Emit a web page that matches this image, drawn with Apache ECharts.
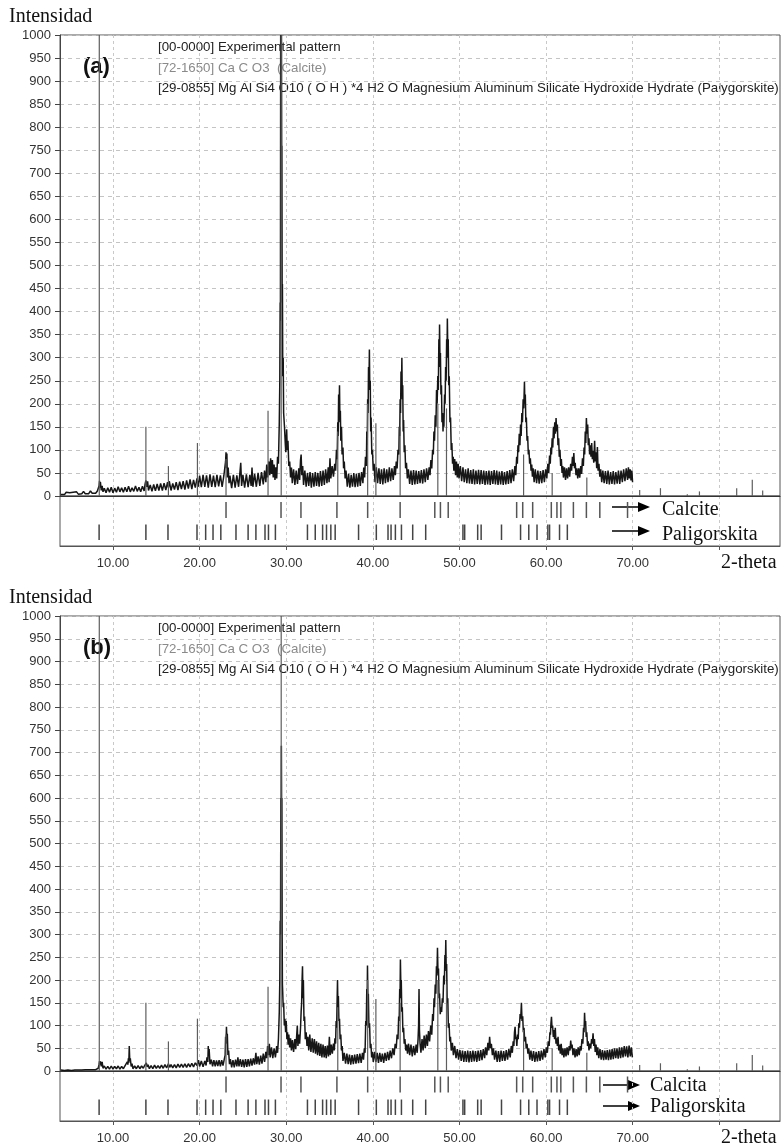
<!DOCTYPE html>
<html>
<head>
<meta charset="utf-8">
<script src="https://cdn.jsdelivr.net/npm/echarts@6.0.0/dist/echarts.min.js"></script>
<style>html,body{margin:0;padding:0;background:#fff}#chart{width:782px;height:1145px}</style>
</head>
<body>
<div id="chart"></div>
<script>
// axis range / tick labels
var X_MIN = 3.885, X_MAX = 87;
var xLabelValues = [10, 20, 30, 40, 50, 60, 70];
var xGridValues = [10, 20, 30, 40, 50, 60, 70, 80];
var panelTags = ['(a)', '(b)'];
var calciteNames = ['Calcite', 'Calcita'];
var palygName = 'Paligorskita';
var legendLines = [
  '[00-0000] Experimental pattern',
  '[72-1650] Ca C O3  (Calcite)',
  '[29-0855] Mg Al Si4 O10 ( O H ) *4 H2 O Magnesium Aluminum Silicate Hydroxide Hydrate (Palygorskite)'
];

// experimental pattern (a), [2theta, counts]
var expA = [
  [4.0,3],[4.2,7],[4.4,3],[4.6,8],[4.8,4],[5.0,7],[5.2,3],[5.4,8],[5.6,4],[5.8,9],[6.0,4],[6.2,8],[6.4,5],[6.6,10],[6.8,5],[7.0,9],[7.2,5],[7.4,11],[7.6,6],[7.8,10],[8.0,6],[8.2,11],
  [8.3,9],[8.4,22],[8.45,33],[8.5,18],[8.55,30],[8.65,12],[8.75,22],[8.85,9],
  [9.0,17],[9.2,7],[9.4,18],[9.6,8],[9.8,19],[10.0,7],[10.2,17],[10.4,8],[10.6,20],[10.8,9],[11.0,18],[11.2,8],[11.4,19],[11.6,9],[11.8,21],[12.0,9],[12.2,18],[12.4,10],[12.6,22],[12.8,10],[13.0,19],[13.2,9],[13.4,21],[13.6,11],
  [13.7,25],[13.8,34],[13.9,20],[14.0,32],[14.1,12],
  [14.3,24],[14.5,10],[14.7,25],[14.9,11],[15.1,26],[15.3,12],[15.5,27],[15.7,12],[15.9,28],[16.1,13],[16.3,30],[16.4,18],[16.5,32],[16.7,12],[16.9,27],[17.1,14],[17.3,30],[17.5,13],[17.7,31],[17.9,15],[18.1,32],[18.3,14],[18.5,34],[18.7,16],[18.9,36],[19.1,15],[19.3,35],[19.5,18],
  [19.7,38],[19.85,20],[20.0,44],[20.2,19],[20.4,46],[20.6,20],[20.8,45],[21.0,18],[21.2,47],[21.4,20],[21.6,44],[21.8,19],[22.0,46],[22.2,21],[22.4,45],[22.6,20],[22.8,44],
  [22.95,48],[23.0,75],[23.05,95],[23.1,60],[23.15,92],[23.2,40],[23.3,62],[23.4,28],
  [23.5,44],[23.7,17],[23.9,46],[24.1,18],[24.3,45],[24.5,20],[24.65,50],[24.75,72],[24.85,22],[25.0,46],[25.2,18],[25.4,47],[25.6,19],[25.8,46],[25.95,22],[26.05,62],[26.15,20],[26.35,48],[26.55,20],[26.75,50],[26.95,22],[27.15,52],[27.35,25],[27.5,55],
  [27.65,30],[27.75,68],[27.85,40],[28.0,75],[28.1,45],[28.2,82],[28.3,48],[28.4,78],[28.5,40],[28.6,68],[28.7,35],[28.8,62],[28.9,38],[29.0,85],[29.1,70],[29.2,160],
  [29.26,250],[29.3,420],[29.33,380],[29.36,1000],[29.38,800],[29.4,1000],[29.42,850],[29.45,1000],[29.48,700],[29.5,760],[29.53,420],[29.56,460],[29.6,260],[29.65,300],[29.7,180],[29.8,150],[29.9,110],[29.95,95],[30.05,145],[30.12,100],[30.2,120],[30.3,65],[30.4,75],
  [30.5,40],[30.6,62],[30.7,28],[30.85,58],[31.0,24],[31.15,55],[31.3,26],[31.45,60],[31.55,35],[31.65,78],[31.72,90],[31.8,45],[31.9,65],[32.0,24],[32.15,55],[32.3,20],[32.45,50],[32.6,22],[32.75,52],[32.9,18],[33.05,50],[33.2,20],[33.35,52],[33.5,22],[33.65,50],[33.8,20],[33.95,54],[34.1,22],[34.25,55],[34.4,24],[34.55,58],[34.7,28],[34.85,62],[34.95,30],[35.05,82],[35.15,38],[35.3,65],[35.45,42],[35.6,70],
  [35.7,55],[35.8,100],[35.88,80],[35.95,160],[36.0,130],[36.05,220],[36.1,180],[36.15,240],[36.2,160],[36.25,185],[36.3,120],[36.38,150],[36.45,90],[36.55,105],[36.62,60],[36.7,75],[36.8,38],
  [36.9,55],[37.05,20],[37.2,48],[37.35,18],[37.5,46],[37.65,20],[37.8,50],[37.95,19],[38.1,48],[38.25,20],[38.4,50],[38.55,22],[38.7,52],[38.85,28],[38.95,62],[39.05,40],[39.15,85],[39.25,65],
  [39.3,140],[39.35,110],[39.4,210],[39.45,180],[39.5,280],[39.55,240],[39.6,318],[39.65,230],[39.7,250],[39.75,140],[39.8,170],[39.88,90],[39.95,100],[40.05,55],[40.15,70],
  [40.25,30],[40.4,62],[40.55,28],[40.7,60],[40.85,26],[41.0,58],[41.15,25],[41.3,60],[41.45,28],[41.6,58],[41.75,30],[41.9,62],[42.05,32],[42.2,60],[42.35,35],[42.5,65],[42.6,45],[42.7,75],[42.8,60],[42.9,100],
  [43.0,90],[43.05,150],[43.1,130],[43.15,210],[43.2,180],[43.25,270],[43.3,230],[43.35,300],[43.4,210],[43.45,240],[43.5,140],[43.55,165],[43.62,95],[43.7,110],[43.78,60],[43.88,72],[43.98,38],
  [44.1,58],[44.25,26],[44.4,55],[44.55,24],[44.7,56],[44.85,25],[45.0,55],[45.15,26],[45.3,54],[45.45,28],[45.6,56],[45.75,27],[45.9,58],[46.05,30],[46.2,60],[46.35,35],[46.5,62],[46.6,45],[46.7,78],[46.8,60],[46.9,100],
  [46.98,90],[47.05,140],[47.12,120],[47.2,175],[47.28,150],[47.35,230],[47.42,200],[47.5,260],[47.56,230],[47.62,340],[47.66,280],[47.7,372],[47.75,290],[47.8,310],[47.86,220],[47.92,240],[47.98,160],[48.05,180],[48.1,140],[48.15,170],[48.2,150],[48.28,220],[48.34,200],[48.4,280],[48.46,250],[48.52,340],[48.56,300],[48.6,385],[48.65,320],[48.7,340],[48.76,240],[48.82,260],[48.9,160],[48.97,170],[49.05,100],[49.12,115],[49.2,70],[49.28,85],
  [49.35,55],[49.45,80],[49.55,45],[49.65,75],[49.75,40],[49.85,70],[49.95,38],[50.1,65],[50.25,32],[50.4,62],[50.55,30],[50.7,58],[50.85,28],[51.0,60],[51.15,27],[51.3,56],[51.45,26],[51.6,58],[51.75,25],[51.9,55],[52.05,26],[52.2,57],[52.35,25],[52.5,56],[52.65,26],[52.8,55],[52.95,24],[53.1,54],[53.25,25],[53.4,55],[53.55,24],[53.7,54],[53.85,26],[54.0,56],[54.15,25],[54.3,55],[54.45,24],[54.6,53],[54.75,25],[54.9,54],[55.05,24],[55.2,52],[55.35,25],[55.5,54],[55.65,26],[55.8,56],[55.95,28],[56.1,58],[56.25,32],[56.4,65],[56.5,45],[56.6,85],
  [56.68,70],[56.75,110],[56.82,95],[56.9,135],[56.98,110],[57.05,155],[57.12,130],[57.2,180],[57.27,160],[57.35,210],[57.42,190],[57.5,248],[57.55,200],[57.6,220],[57.66,160],[57.72,170],[57.8,120],[57.87,130],[57.95,90],[58.02,100],[58.1,70],[58.18,82],[58.26,55],[58.34,68],[58.42,42],
  [58.5,60],[58.62,30],[58.75,58],[58.9,28],[59.05,55],[59.2,27],[59.35,54],[59.5,28],[59.65,56],[59.8,30],[59.95,58],[60.08,38],[60.2,70],[60.3,50],[60.4,88],
  [60.48,70],[60.55,105],[60.62,90],[60.7,125],[60.77,105],[60.85,150],[60.92,125],[61.0,160],[61.07,135],[61.15,169],[61.22,140],[61.3,155],[61.37,110],[61.45,125],[61.52,85],[61.6,100],[61.68,65],[61.76,80],[61.84,50],[61.92,65],
  [62.0,40],[62.12,62],[62.24,35],[62.36,60],[62.48,38],[62.6,62],[62.72,42],[62.84,70],[62.94,55],[63.04,85],[63.12,65],[63.2,93],[63.28,60],[63.36,72],[63.45,45],[63.55,60],[63.65,38],[63.77,60],[63.88,40],[64.0,65],[64.1,48],[64.2,82],[64.3,65],
  [64.38,105],[64.45,90],[64.52,140],[64.58,115],[64.65,169],[64.72,135],[64.8,155],[64.87,110],[64.95,125],[65.02,90],[65.1,110],[65.18,85],[65.26,115],[65.34,80],[65.42,98],[65.5,72],[65.6,120],[65.68,75],[65.76,95],[65.84,60],[65.92,106],[66.0,55],[66.1,70],[66.2,42],[66.3,58],
  [66.42,30],[66.55,55],[66.7,28],[66.85,54],[67.0,26],[67.15,55],[67.3,25],[67.45,52],[67.6,26],[67.75,54],[67.9,25],[68.05,52],[68.2,27],[68.35,55],[68.5,26],[68.65,55],[68.8,30],[68.95,58],[69.1,32],[69.25,60],[69.4,35],[69.5,62],[69.6,38],[69.7,58],[69.8,34],[69.9,55],[69.98,30]
];

// experimental pattern (b)
var expB = [
  [4.0,2],[4.2,5],[4.4,1],[4.6,5],[4.8,2],[5.0,4],[5.2,1],[5.4,5],[5.6,2],[5.8,5],[6.0,2],[6.2,5],[6.4,2],[6.6,6],[6.8,3],[7.0,6],[7.2,3],[7.4,7],[7.6,3],[7.8,6],[8.0,3],[8.2,7],
  [8.3,6],[8.4,15],[8.45,22],[8.5,14],[8.55,21],[8.65,10],[8.75,20],[8.85,6],
  [9.0,11],[9.2,4],[9.4,10],[9.6,4],[9.8,11],[10.0,4],[10.2,10],[10.4,5],[10.6,11],[10.8,4],[11.0,10],[11.2,5],[11.4,12],[11.55,8],
  [11.65,20],[11.72,14],[11.78,28],[11.83,18],[11.88,55],[11.94,22],[12.0,28],[12.1,10],[12.2,16],
  [12.3,5],[12.5,11],[12.7,5],[12.9,12],[13.1,5],[13.3,11],[13.5,6],[13.65,12],
  [13.75,8],[13.85,18],[13.95,9],[14.05,14],
  [14.2,5],[14.4,12],[14.6,5],[14.8,13],[15.0,6],[15.2,12],[15.4,6],[15.6,13],[15.8,6],[16.0,14],[16.2,7],[16.4,16],[16.55,8],[16.7,14],[16.9,7],[17.1,14],[17.3,7],[17.5,15],[17.7,8],[17.9,15],[18.1,8],[18.3,16],[18.5,8],[18.7,16],[18.9,9],[19.1,17],[19.3,9],[19.5,18],
  [19.7,12],[19.85,24],[20.0,10],[20.2,22],[20.4,9],[20.6,22],[20.75,12],[20.85,30],[20.95,20],[21.0,55],[21.05,35],[21.1,48],[21.2,15],[21.35,25],[21.5,10],[21.65,24],[21.8,10],[21.95,23],[22.1,11],[22.25,24],[22.4,10],[22.55,24],[22.7,12],[22.85,26],
  [22.95,35],[23.0,75],[23.05,60],[23.1,97],[23.15,70],[23.2,82],[23.27,35],[23.35,45],[23.45,15],
  [23.55,26],[23.7,8],[23.85,24],[24.0,8],[24.15,25],[24.3,10],[24.42,30],[24.55,10],[24.7,26],[24.85,9],[25.0,25],[25.15,8],[25.3,26],[25.45,9],[25.6,26],[25.75,10],[25.9,27],[26.05,12],[26.2,28],[26.35,14],[26.5,40],[26.6,15],[26.75,32],[26.9,14],[27.05,34],[27.2,16],[27.35,38],[27.5,20],[27.65,42],
  [27.75,28],[27.85,55],[27.95,35],[28.05,60],[28.15,30],[28.3,52],[28.45,28],[28.6,50],[28.75,30],[28.9,55],[29.0,40],[29.1,70],[29.2,130],
  [29.26,200],[29.3,330],[29.34,300],[29.38,600],[29.41,520],[29.44,715],[29.47,560],[29.5,600],[29.53,300],[29.56,190],[29.6,170],[29.65,140],[29.7,150],[29.78,100],[29.85,115],[29.93,85],[30.0,110],[30.08,70],[30.15,85],[30.22,58],[30.3,80],[30.4,52],
  [30.5,72],[30.6,45],[30.72,68],[30.85,42],[31.0,70],[31.1,48],[31.2,75],[31.28,100],[31.35,55],[31.45,80],[31.55,60],[31.65,95],
  [31.72,130],[31.78,150],[31.83,200],[31.88,230],[31.93,160],[31.98,200],[32.05,110],[32.12,120],[32.2,70],[32.3,85],[32.4,55],[32.5,75],
  [32.6,45],[32.72,80],[32.85,42],[33.0,72],[33.12,40],[33.25,70],[33.38,38],[33.5,65],[33.62,35],[33.75,62],[33.88,33],[34.0,60],[34.12,30],[34.25,58],[34.38,30],[34.5,55],[34.62,28],[34.75,56],[34.88,32],[34.98,75],[35.08,35],[35.2,58],[35.32,38],[35.45,60],[35.55,45],[35.62,72],
  [35.7,60],[35.76,110],[35.82,95],[35.87,150],[35.92,200],[35.97,140],[36.02,165],[36.08,110],[36.15,115],[36.22,70],[36.3,80],[36.38,45],[36.46,55],
  [36.55,22],[36.7,40],[36.85,16],[37.0,38],[37.15,15],[37.3,36],[37.45,14],[37.6,35],[37.75,15],[37.9,36],[38.05,16],[38.2,37],[38.35,17],[38.5,38],[38.65,18],[38.8,40],[38.92,25],[39.02,50],[39.1,40],[39.18,110],
  [39.24,100],[39.3,180],[39.34,150],[39.38,232],[39.43,160],[39.48,170],[39.55,95],[39.62,105],[39.7,50],[39.78,60],[39.86,30],[39.95,42],
  [40.05,20],[40.2,42],[40.35,20],[40.5,40],[40.65,18],[40.8,40],[40.95,20],[41.1,38],[41.25,18],[41.4,40],[41.55,22],[41.7,42],[41.85,24],[42.0,45],[42.15,28],[42.3,50],[42.45,35],[42.58,60],[42.7,50],[42.8,80],[42.9,70],
  [42.98,120],[43.04,110],[43.1,180],[43.14,160],[43.18,245],[43.23,190],[43.28,200],[43.34,130],[43.4,140],[43.47,85],[43.55,95],[43.62,60],[43.7,70],[43.8,45],[43.9,58],
  [44.0,38],[44.12,60],[44.25,35],[44.4,58],[44.55,32],[44.7,55],[44.85,35],[45.0,58],[45.12,40],[45.22,70],[45.28,100],[45.33,180],[45.38,90],[45.45,60],[45.55,40],[45.68,70],[45.8,45],[45.92,78],[46.05,50],[46.18,80],[46.3,55],[46.42,88],[46.55,65],[46.68,100],[46.8,80],[46.9,125],
  [46.98,110],[47.06,160],[47.12,140],[47.2,190],[47.27,170],[47.34,230],[47.4,210],[47.46,271],[47.52,215],[47.58,225],[47.64,160],[47.7,170],[47.78,125],[47.86,140],[47.94,130],[48.02,160],[48.1,150],[48.18,210],[48.25,190],[48.32,255],[48.37,230],[48.42,288],[48.47,220],[48.52,235],[48.58,150],[48.65,160],[48.72,95],[48.8,105],[48.88,65],[48.96,75],
  [49.05,45],[49.18,62],[49.3,35],[49.45,55],[49.6,28],[49.75,48],[49.9,25],[50.05,46],[50.2,22],[50.35,45],[50.5,20],[50.65,44],[50.8,20],[50.95,45],[51.1,19],[51.25,44],[51.4,20],[51.55,45],[51.7,21],[51.85,44],[52.0,20],[52.15,45],[52.3,22],[52.45,46],[52.6,24],[52.75,48],[52.9,28],[53.02,52],[53.15,35],[53.28,62],[53.38,45],[53.48,75],[53.58,50],[53.68,60],[53.8,35],[53.92,50],[54.05,25],[54.2,45],[54.35,20],[54.5,44],[54.65,20],[54.8,45],[54.95,22],[55.1,44],[55.25,22],[55.4,46],[55.55,25],[55.7,48],[55.85,30],[55.98,55],[56.1,40],[56.2,65],
  [56.28,55],[56.35,85],[56.42,97],[56.48,70],[56.55,75],[56.62,55],[56.7,80],
  [56.78,70],[56.85,105],[56.92,95],[57.0,125],[57.07,115],[57.15,150],[57.22,110],[57.3,120],[57.37,85],[57.45,95],[57.53,65],[57.62,75],[57.7,50],[57.8,60],[57.9,38],[58.0,50],
  [58.12,25],[58.25,45],[58.4,22],[58.55,44],[58.7,20],[58.85,42],[59.0,21],[59.15,44],[59.3,22],[59.45,45],[59.6,25],[59.75,48],[59.9,30],[60.02,52],[60.14,40],[60.25,65],[60.35,55],[60.44,85],
  [60.5,80],[60.56,105],[60.62,119],[60.68,95],[60.75,100],[60.83,75],[60.9,90],[60.98,70],[61.06,95],[61.14,60],[61.22,72],[61.3,55],[61.38,75],[61.46,45],[61.55,58],[61.64,38],[61.74,60],[61.84,35],[61.94,50],
  [62.05,30],[62.18,50],[62.3,32],[62.42,52],[62.55,35],[62.66,55],[62.76,45],[62.84,67],[62.92,50],[63.0,58],[63.1,35],[63.22,50],[63.34,30],[63.46,48],[63.58,32],[63.7,52],[63.82,35],[63.94,55],[64.04,45],[64.14,70],[64.24,60],[64.32,95],
  [64.38,85],[64.44,128],[64.5,100],[64.56,110],[64.63,75],[64.7,85],[64.78,55],[64.86,65],[64.95,45],[65.05,60],[65.15,50],[65.25,70],[65.33,60],[65.42,83],[65.5,55],[65.58,70],[65.67,42],[65.76,58],[65.86,35],[65.96,52],
  [66.08,28],[66.22,48],[66.36,25],[66.5,46],[66.64,24],[66.78,45],[66.92,25],[67.06,46],[67.2,24],[67.34,47],[67.48,25],[67.62,48],[67.76,26],[67.9,50],[68.04,28],[68.18,50],[68.32,27],[68.46,52],[68.6,28],[68.74,52],[68.88,30],[69.02,55],[69.16,32],[69.3,54],[69.44,30],[69.58,56],[69.72,32],[69.84,52],[69.96,30]
];

// reference pattern lines drawn in the plot, [2theta, intensity]
var refSticks = [
  [8.42,1000],[13.8,150],[16.4,65],[19.75,115],[23.05,80],[27.9,185],[29.42,1000],[35.95,140],[39.4,200],[40.35,158],
  [43.15,150],[47.5,200],[48.5,190],[57.4,90],[60.7,50],[64.7,40],
  [70.8,13],[73.2,17],[76.3,4],[77.7,10],[82.0,17],[83.8,35],[85.0,12]
];

// stick positions in the lower strip
var calciteLines = [23.05,29.4,31.7,35.85,39.4,43.15,47.15,47.8,48.7,56.6,57.3,58.45,60.6,61.25,61.7,63.15,64.65,66.2,69.4];
var palygLines = [8.4,13.8,16.35,19.7,20.7,21.55,22.45,24.2,25.6,26.5,27.55,27.95,28.75,32.45,33.35,34.2,34.65,35.15,35.65,38.35,40.4,
  41.75,42.1,42.6,43.3,44.6,46.1,50.4,50.6,52.1,52.5,54.85,57.05,58.0,58.95,60.2,60.4,61.55,62.45];

var panels = [
  {top: 35, height: 461, strip: 50, rows: [8.8, 1.2], arrowX: [612, 650], textX: 662, arrowY: [507, 531], textY: [510, 535], labelY: 563},
  {top: 616, height: 455, strip: 51, rows: [8.9, 1.2], arrowX: [603, 640], textX: 650, arrowY: [1085, 1106], textY: [1086, 1107], labelY: 1138}
];

var chart = echarts.init(document.getElementById('chart'));

function stickSeries(xi, data, lo, hi, color, width) {
  return {
    type: 'custom', xAxisIndex: xi, yAxisIndex: xi, z: 5, silent: true,
    data: data.map(function (v) { return [v, 0]; }),
    renderItem: function (params, api) {
      var a = api.coord([api.value(0), lo]);
      var b = api.coord([api.value(0), hi]);
      return {type: 'line', shape: {x1: a[0], y1: a[1], x2: b[0], y2: b[1]}, style: {stroke: color, lineWidth: width}};
    }
  };
}

var grids = [], xAxes = [], yAxes = [], series = [], graphics = [];
var gridLine = {lineStyle: {color: '#c9c9c9', type: [3, 3], width: 1}};

panels.forEach(function (p, i) {
  var main = 2 * i, strip = 2 * i + 1;
  grids.push({left: 60, width: 720, top: p.top, height: p.height, show: true, borderColor: '#555', borderWidth: 1});
  grids.push({left: 60, width: 720, top: p.top + p.height, height: p.strip, show: true, borderColor: '#555', borderWidth: 1});

  xAxes.push({
    type: 'value', gridIndex: main, min: X_MIN, max: X_MAX, splitNumber: 8,
    axisLine: {show: true, lineStyle: {color: '#333', width: 1.2}},
    axisTick: {show: false, customValues: xGridValues},
    axisLabel: {show: false, customValues: xLabelValues},
    splitLine: {show: true, lineStyle: gridLine.lineStyle}
  });
  xAxes.push({
    type: 'value', gridIndex: strip, min: X_MIN, max: X_MAX, splitNumber: 8,
    axisLine: {show: true, lineStyle: {color: '#555'}},
    axisTick: {show: true, length: 4, customValues: xGridValues, lineStyle: {color: '#555'}},
    axisLabel: {
      customValues: xLabelValues, margin: 11, fontSize: 13, color: '#333', fontFamily: 'Liberation Sans',
      formatter: function (v) { return v.toFixed(2); }
    },
    splitLine: {show: true, lineStyle: gridLine.lineStyle}
  });

  yAxes.push({
    type: 'value', gridIndex: main, min: 0, max: 1000, interval: 50,
    axisLine: {show: true, lineStyle: {color: '#444'}},
    axisTick: {show: true, length: 5, lineStyle: {color: '#444'}},
    axisLabel: {fontSize: 13, color: '#333', fontFamily: 'Liberation Sans', margin: 9,
      formatter: function (v) { return String(v); }},
    splitLine: {show: true, lineStyle: {color: '#c4c4c4', type: [4, 4]}}
  });
  yAxes.push({type: 'value', gridIndex: strip, min: 0, max: 10, show: false, splitLine: {show: false}});

  series.push({
    type: 'line', xAxisIndex: main, yAxisIndex: main, data: i === 0 ? expA : expB,
    showSymbol: false, symbol: 'none', z: 3, animation: false,
    lineStyle: {color: '#161616', width: 1.5}
  });
  series.push({
    type: 'custom', xAxisIndex: main, yAxisIndex: main, z: 4, silent: true,
    data: refSticks,
    renderItem: function (params, api) {
      var a = api.coord([api.value(0), 0]);
      var b = api.coord([api.value(0), api.value(1)]);
      return {type: 'line', shape: {x1: a[0], y1: a[1], x2: b[0], y2: b[1]}, style: {stroke: '#5e5e5e', lineWidth: 1.2}};
    }
  });
  series.push(stickSeries(strip, calciteLines, p.rows[0] - 3.2, p.rows[0], '#555', 1.5));
  series.push(stickSeries(strip, palygLines, p.rows[1], p.rows[1] + 3.1, '#444', 1.5));

  function txt(t, x, y, font, fill) {
    graphics.push({type: 'text', x: x, y: y, silent: true,
      style: {text: t, font: font, fill: fill, verticalAlign: 'middle', align: 'left'}});
  }
  txt('Intensidad', 9, p.top - 18, '20px "Liberation Serif"', '#111');
  txt(panelTags[i], 83, p.top + 32, 'bold 22px "Liberation Sans"', '#111');
  legendLines.forEach(function (t, k) {
    txt(t, 158, p.top + [12, 33, 53][k], '13.3px "Liberation Sans"', k === 1 ? '#8a8a8a' : '#222');
  });
  txt(calciteNames[i], p.textX, p.textY[0], '20px "Liberation Serif"', '#111');
  txt(palygName, p.textX, p.textY[1], '20px "Liberation Serif"', '#111');
  txt('2-theta', 721, p.labelY, '20px "Liberation Serif"', '#111');
  p.arrowY.forEach(function (ay) {
    graphics.push({type: 'line', silent: true, shape: {x1: p.arrowX[0], y1: ay, x2: p.arrowX[1] - 8, y2: ay}, style: {stroke: '#000', lineWidth: 1.5}});
    graphics.push({type: 'polygon', silent: true, shape: {points: [[p.arrowX[1] - 12, ay - 5], [p.arrowX[1], ay], [p.arrowX[1] - 12, ay + 5]]}, style: {fill: '#000'}});
  });
});

chart.setOption({
  animation: false,
  backgroundColor: '#fff',
  grid: grids,
  xAxis: xAxes,
  yAxis: yAxes,
  series: series,
  graphic: graphics
});
</script>
</body>
</html>
